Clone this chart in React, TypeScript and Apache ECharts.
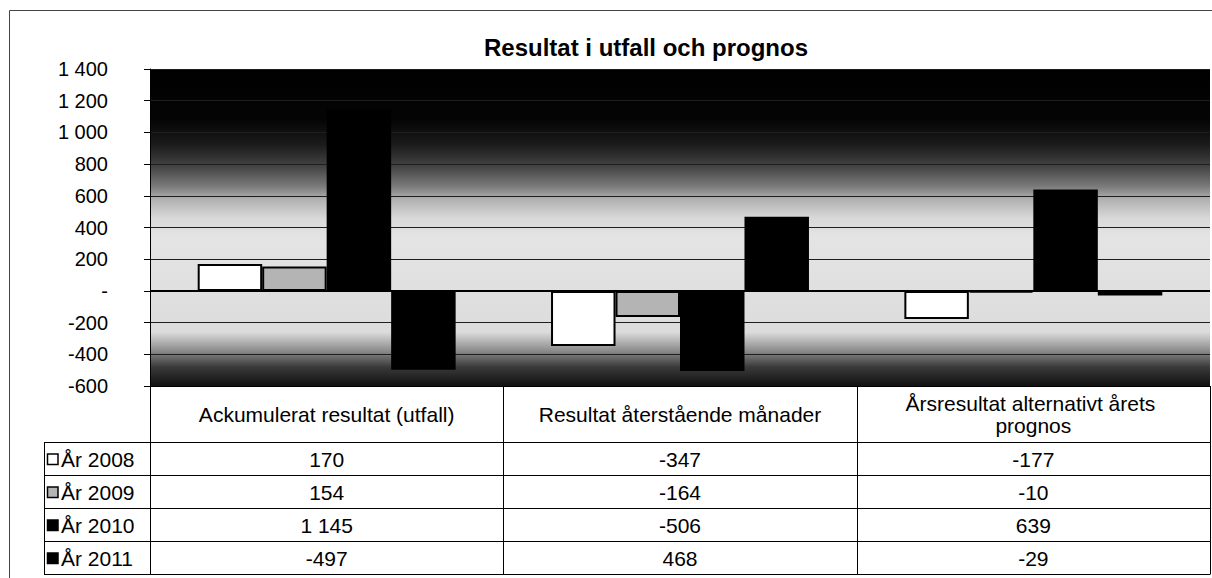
import React, { useEffect, useRef } from "react";
import * as echarts from "echarts";

const categories = [
  "Ackumulerat resultat (utfall)",
  "Resultat återstående månader",
  "Årsresultat alternativt årets prognos",
];
const seriesNames = ["År 2008", "År 2009", "År 2010", "År 2011"];
const values2008 = [170, -347, -177];
const values2009 = [154, -164, -10];
const values2010 = [1145, -506, 639];
const values2011 = [-497, 468, -29];
const allValues = [values2008, values2009, values2010, values2011];
const seriesFill = ["#ffffff", "#b4b4b4", "#000000", "#000000"];
const seriesBorder = ["#000000", "#000000", "#000000", "#000000"];
const seriesBorderWidth = [2, 2, 0, 0];

const yMin = -600;
const yMax = 1400;
const yStep = 200;

const FONT = "'Liberation Sans', Arial, sans-serif";

function fmt(v: number): string {
  if (v === 0) return "-";
  const s = String(Math.abs(v)).replace(/\B(?=(\d{3})+(?!\d))/g, " ");
  return (v < 0 ? "-" : "") + s;
}

export default function App() {
  const ref = useRef<HTMLDivElement>(null);
  useEffect(() => {
    if (!ref.current) return;
    document.body.style.margin = "0";
    const chart = echarts.init(ref.current, null, { renderer: "svg" });

    const W = 1212;
    const gridLeft = 150;
    const gridRight = 2;
    const plotRight = W - gridRight;
    const plotBottom = 386;
    const colW = (plotRight - gridLeft) / categories.length;
    const tableLeft = 44;
    const rowTop = 442;
    const rowH = 33;

    const g: any[] = [];
    const lineStyle = { stroke: "#000", lineWidth: 1 };
    // outer border
    g.push({
      type: "rect",
      shape: { x: 9.5, y: 10.5, width: 1210, height: 580 },
      style: { fill: "none", stroke: "#444", lineWidth: 1 },
      silent: true,
    });
    // vertical lines of the table
    for (let c = 0; c <= categories.length; c++) {
      const x = Math.round(gridLeft + c * colW) + 0.5;
      g.push({
        type: "line",
        shape: { x1: x, y1: plotBottom, x2: x, y2: rowTop + rowH * seriesNames.length },
        style: lineStyle,
        silent: true,
      });
    }
    g.push({
      type: "line",
      shape: { x1: tableLeft + 0.5, y1: rowTop, x2: tableLeft + 0.5, y2: rowTop + rowH * seriesNames.length },
      style: lineStyle,
      silent: true,
    });
    // horizontal lines
    for (let r = 0; r <= seriesNames.length; r++) {
      const y = rowTop + r * rowH + 0.5;
      g.push({
        type: "line",
        shape: { x1: tableLeft, y1: y, x2: plotRight + 0.5, y2: y },
        style: lineStyle,
        silent: true,
      });
    }
    // rows
    seriesNames.forEach((name, r) => {
      const cy = rowTop + r * rowH + rowH / 2 + 1;
      g.push({
        type: "rect",
        shape: { x: 47.5, y: cy - 5.5, width: 10.5, height: 10.5 },
        style: { fill: seriesFill[r], stroke: "#000", lineWidth: 1.5 },
        silent: true,
      });
      g.push({
        type: "text",
        style: {
          text: name,
          x: 61,
          y: cy,
          fill: "#000",
          font: `21px ${FONT}`,
          align: "left",
          verticalAlign: "middle",
        },
        silent: true,
      });
      allValues[r].forEach((v, c) => {
        g.push({
          type: "text",
          style: {
            text: fmt(v),
            x: gridLeft + c * colW + colW / 2,
            y: cy,
            fill: "#000",
            font: `21px ${FONT}`,
            align: "center",
            verticalAlign: "middle",
          },
          silent: true,
        });
      });
    });

    const option: any = {
      animation: false,
      backgroundColor: "#ffffff",
      title: {
        text: "Resultat i utfall och prognos",
        left: 641,
        top: 30,
        textAlign: "center",
        textStyle: { fontSize: 24, fontWeight: "bold", color: "#000", fontFamily: FONT },
      },
      grid: {
        left: gridLeft,
        right: gridRight,
        top: 69,
        bottom: 578 - plotBottom,
        show: true,
        borderWidth: 0,
        backgroundColor: {
          type: "linear",
          x: 0,
          y: 0,
          x2: 0,
          y2: 1,
          colorStops: [
            { offset: 0, color: "#000000" },
            { offset: 0.16, color: "#050505" },
            { offset: 0.24, color: "#1c1c1c" },
            { offset: 0.31, color: "#454545" },
            { offset: 0.37, color: "#7a7a7a" },
            { offset: 0.41, color: "#b0b0b0" },
            { offset: 0.47, color: "#d8d8d8" },
            { offset: 0.53, color: "#e4e4e4" },
            { offset: 0.83, color: "#dcdcdc" },
            { offset: 0.89, color: "#8a8a8a" },
            { offset: 0.94, color: "#3a3a3a" },
            { offset: 1, color: "#111111" },
          ],
        },
      },
      xAxis: {
        type: "category",
        data: categories,
        axisLine: { onZero: false, lineStyle: { color: "#000", width: 1 } },
        axisTick: { show: false },
        axisLabel: {
          color: "#000",
          fontSize: 21,
          fontFamily: FONT,
          margin: 28,
          verticalAlign: "middle",
          width: 320,
          overflow: "break",
          lineHeight: 22,
          interval: 0,
        },
      },
      yAxis: {
        type: "value",
        min: yMin,
        max: yMax,
        interval: yStep,
        axisLine: { show: true, lineStyle: { color: "#000", width: 1 } },
        axisTick: { show: true, length: 6, lineStyle: { color: "#000" } },
        axisLabel: {
          color: "#000",
          fontSize: 20,
          fontFamily: FONT,
          margin: 42,
          formatter: (v: number) => fmt(v),
        },
        splitLine: { show: true, lineStyle: { color: "#1e1e1e", width: 1 } },
      },
      series: seriesNames.map((name, i) => ({
        name,
        type: "bar",
        data: allValues[i],
        barGap: "0%",
        barCategoryGap: "27%",
        itemStyle: {
          color: seriesFill[i],
          borderColor: seriesBorder[i],
          borderWidth: seriesBorderWidth[i],
        },
        markLine:
          i === 0
            ? {
                silent: true,
                symbol: ["none", "none"],
                label: { show: false },
                lineStyle: { color: "#000", width: 2, type: "solid" },
                data: [{ yAxis: 0 }],
              }
            : undefined,
      })),
      graphic: g,
    };
    chart.setOption(option);
    return () => chart.dispose();
  }, []);
  return <div ref={ref} style={{ width: 1212, height: 578 }} />;
}
